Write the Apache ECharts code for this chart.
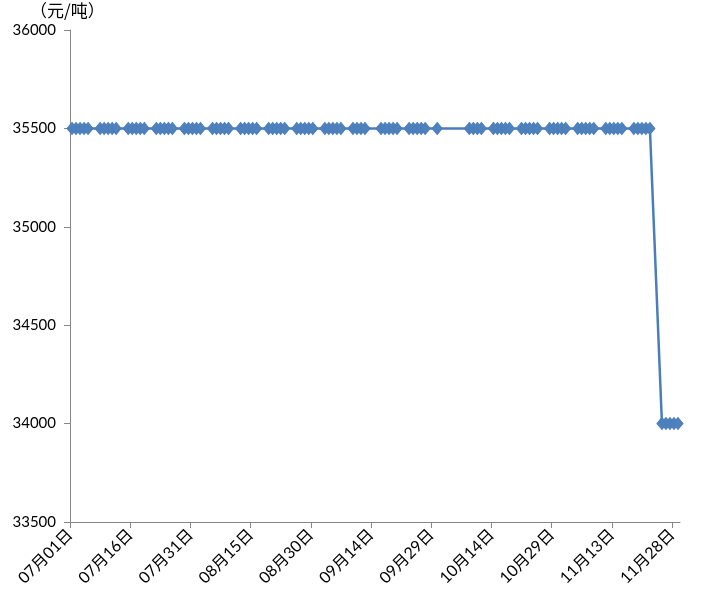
<!DOCTYPE html>
<html>
<head>
<meta charset="utf-8">
<script src="https://cdn.jsdelivr.net/npm/echarts@6/dist/echarts.min.js"></script>
<style>html,body{margin:0;padding:0;background:#fff}#c{width:714px;height:606px}</style>
</head>
<body>
<div id="c"></div>
<script>
// Trading dates (2019) and prices (元/吨)
const year = 2019;
const dates = [
 '07-01','07-02','07-03','07-04','07-05','07-08','07-09','07-10','07-11','07-12',
 '07-15','07-16','07-17','07-18','07-19','07-22','07-23','07-24','07-25','07-26',
 '07-29','07-30','07-31','08-01','08-02','08-05','08-06','08-07','08-08','08-09',
 '08-12','08-13','08-14','08-15','08-16','08-19','08-20','08-21','08-22','08-23',
 '08-26','08-27','08-28','08-29','08-30','09-02','09-03','09-04','09-05','09-06',
 '09-09','09-10','09-11','09-12','09-16','09-17','09-18','09-19','09-20','09-23',
 '09-24','09-25','09-26','09-27','09-30','10-08','10-09','10-10','10-11','10-14',
 '10-15','10-16','10-17','10-18','10-21','10-22','10-23','10-24','10-25','10-28',
 '10-29','10-30','10-31','11-01','11-04','11-05','11-06','11-07','11-08','11-11',
 '11-12','11-13','11-14','11-15','11-18','11-19','11-20','11-21','11-22','11-25',
 '11-26','11-27','11-28','11-29'
];
const prices = [
 35500,35500,35500,35500,35500,35500,35500,35500,35500,35500,
 35500,35500,35500,35500,35500,35500,35500,35500,35500,35500,
 35500,35500,35500,35500,35500,35500,35500,35500,35500,35500,
 35500,35500,35500,35500,35500,35500,35500,35500,35500,35500,
 35500,35500,35500,35500,35500,35500,35500,35500,35500,35500,
 35500,35500,35500,35500,35500,35500,35500,35500,35500,35500,
 35500,35500,35500,35500,35500,35500,35500,35500,35500,35500,
 35500,35500,35500,35500,35500,35500,35500,35500,35500,35500,
 35500,35500,35500,35500,35500,35500,35500,35500,35500,35500,
 35500,35500,35500,35500,35500,35500,35500,35500,35500,34000,
 34000,34000,34000,34000
];
const tickDates = ['07-01','07-16','07-31','08-15','08-30','09-14','09-29','10-14','10-29','11-13','11-28'];
const axisStart = '07-01';
const axisEnd = '11-30';
const yTicks = [33500, 34000, 34500, 35000, 35500, 36000];
const unitLabel = '（元/吨）';

function dayIndex(md) {
  const [m, d] = md.split('-').map(Number);
  const [m0, d0] = axisStart.split('-').map(Number);
  return Math.round((Date.UTC(year, m - 1, d) - Date.UTC(year, m0 - 1, d0)) / 86400000);
}
function fmt(md) { const [m, d] = md.split('-'); return m + '月' + d + '日'; }

const tickVals = tickDates.map(dayIndex);
const labelMap = {};
tickDates.forEach(t => { labelMap[dayIndex(t)] = fmt(t); });
const seriesData = dates.map((d, i) => [dayIndex(d) + 0.5, prices[i]]);

const axisColor = '#868686';
const txtFont = "Lato, 'Noto Sans CJK SC', sans-serif";
const chart = echarts.init(document.getElementById('c'), null, {renderer: 'canvas'});
chart.setOption({
  animation: false,
  backgroundColor: '#fff',
  grid: {left: 70, right: 34, top: 30, bottom: 84},
  graphic: [{
    type: 'text', left: 30, top: 2,
    style: {text: unitLabel, font: "17px 'Noto Sans CJK SC', sans-serif", fill: '#000'}
  }],
  xAxis: {
    type: 'value',
    min: dayIndex(axisStart),
    max: dayIndex(axisEnd),
    splitLine: {show: false},
    axisLine: {show: true, lineStyle: {color: axisColor, width: 1}},
    axisTick: {show: true, length: 6, lineStyle: {color: axisColor}, customValues: tickVals},
    axisLabel: {
      customValues: tickVals,
      rotate: 45, margin: 10, color: '#000', fontSize: 16, fontFamily: txtFont,
      formatter: v => labelMap[Math.round(v)] || ''
    }
  },
  yAxis: {
    type: 'value',
    min: yTicks[0], max: yTicks[yTicks.length - 1], interval: 500,
    splitLine: {show: false},
    axisLine: {show: true, lineStyle: {color: axisColor, width: 1}},
    axisTick: {show: true, length: 6, lineStyle: {color: axisColor}},
    axisLabel: {color: '#000', fontSize: 15, fontFamily: txtFont, margin: 14, formatter: v => String(v)}
  },
  series: [{
    type: 'line',
    data: seriesData,
    lineStyle: {color: '#4A7EBB', width: 2.5},
    symbol: 'diamond',
    symbolSize: [10, 12],
    itemStyle: {color: '#4F81BD', borderColor: '#4A7EBB', borderWidth: 1},
    showAllSymbol: true
  }]
});
</script>
</body>
</html>
